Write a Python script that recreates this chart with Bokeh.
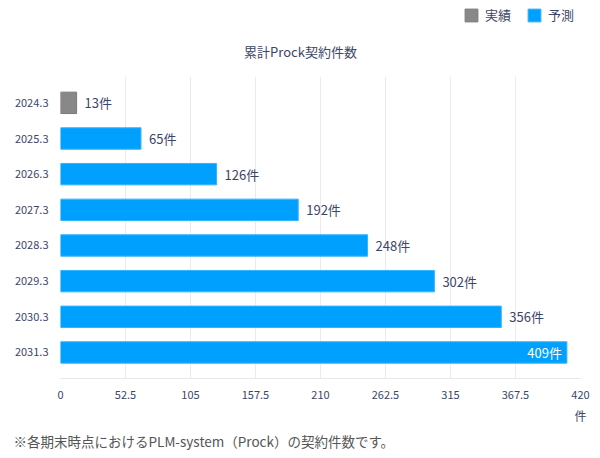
from bokeh.plotting import figure
from bokeh.models import (ColumnDataSource, Range1d, FixedTicker, Title, Label,
                          Legend, LegendItem, BoxAnnotation)
from bokeh.core.properties import value
from bokeh.embed import file_html
from bokeh.resources import INLINE

# ---- data ----
periods = ["2024.3", "2025.3", "2026.3", "2027.3", "2028.3", "2029.3", "2030.3", "2031.3"]
counts = [13, 65, 126, 192, 248, 302, 356, 409]
kinds = ["実績", "予測", "予測", "予測", "予測", "予測", "予測", "予測"]
x_ticks = [0, 52.5, 105, 157.5, 210, 262.5, 315, 367.5, 420]
title_text = "累計Prock契約件数"
unit_text = "件"
note_text = "※各期末時点におけるPLM-system（Prock）の契約件数です。"

FONT = "Noto Sans CJK JP"
TXT = "#3d4566"
BLUE = "#00a0ff"
GREY = "#888888"

n = len(periods)
pos = list(range(n))             # row index of each period (top to bottom)
PAD = 0.73                        # band padding around the outermost rows
HEADER = 2.14                     # extra room (in rows) for legend and title

p = figure(width=600, height=458, output_backend="svg", toolbar_location=None,
           x_range=Range1d(0, 420),
           y_range=Range1d(start=n - 1 + PAD, end=-PAD - HEADER),
           min_border_left=60, min_border_right=20, min_border_top=0, min_border_bottom=80)
p.outline_line_color = None
p.background_fill_color = "white"
p.border_fill_color = "white"

act = [i for i, k in enumerate(kinds) if k == "実績"]
fc = [i for i, k in enumerate(kinds) if k == "予測"]
src_act = ColumnDataSource(dict(y=[pos[i] for i in act], x=[counts[i] for i in act]))
src_fc = ColumnDataSource(dict(y=[pos[i] for i in fc], x=[counts[i] for i in fc]))

r_act = p.hbar(y="y", right="x", left=0, height=0.6, source=src_act,
               fill_color=GREY, line_color="#7a7a7a", line_width=1)
r_fc = p.hbar(y="y", right="x", left=0, height=0.6, source=src_fc,
              fill_color=BLUE, line_color="#33b3ff", line_width=1)

# value labels
vmax = max(counts)
lab = [f"{c}{unit_text}" for c in counts]
out_src = ColumnDataSource(dict(y=[pos[i] for i in range(n) if counts[i] != vmax],
                                x=[counts[i] for i in range(n) if counts[i] != vmax],
                                t=[lab[i] for i in range(n) if counts[i] != vmax]))
in_src = ColumnDataSource(dict(y=[pos[i] for i in range(n) if counts[i] == vmax],
                               x=[counts[i] for i in range(n) if counts[i] == vmax],
                               t=[lab[i] for i in range(n) if counts[i] == vmax]))
p.text(x="x", y="y", text="t", source=out_src, x_offset=8, text_align="left",
       text_baseline="middle", text_font=value(FONT), text_font_size="13px", text_color=TXT)
p.text(x="x", y="y", text="t", source=in_src, x_offset=-5, text_align="right",
       text_baseline="middle", text_font=value(FONT), text_font_size="13px", text_color="white")

# axes
p.xaxis.ticker = FixedTicker(ticks=x_ticks)
p.xaxis.major_label_overrides = {t: f"{t:g}" for t in x_ticks}
p.xaxis.axis_line_color = "#e6e6e6"
p.xaxis.major_tick_line_color = None
p.xaxis.minor_tick_line_color = None
p.xaxis.major_tick_out = 0
p.xaxis.major_label_standoff = 12
p.xaxis.major_label_text_font = FONT
p.xaxis.major_label_text_font_size = "11px"
p.xaxis.major_label_text_color = TXT

p.yaxis.ticker = FixedTicker(ticks=pos)
p.yaxis.major_label_overrides = {i: periods[i] for i in pos}
p.yaxis.axis_line_color = None
p.yaxis.major_tick_line_color = None
p.yaxis.minor_tick_line_color = None
p.yaxis.major_tick_out = 0
p.yaxis.major_label_standoff = 12
p.yaxis.major_label_text_font = FONT
p.yaxis.major_label_text_font_size = "11px"
p.yaxis.major_label_text_color = TXT

p.xgrid.grid_line_color = "#ebebeb"
p.ygrid.grid_line_color = None

# keep grid lines out of the header area
p.add_layout(BoxAnnotation(top=-PAD - HEADER, bottom=-PAD, fill_color="white", fill_alpha=1,
                           line_color=None))

# legend (top right) and title, inside the header area
legend = Legend(items=[LegendItem(label="実績", renderers=[r_act]),
                       LegendItem(label="予測", renderers=[r_fc])],
                orientation="horizontal", location=(403, 354),
                padding=0, margin=0, spacing=15, label_standoff=6,
                glyph_width=16, glyph_height=16, label_height=16,
                border_line_color=None, background_fill_alpha=0,
                label_text_font=FONT, label_text_font_size="13px", label_text_color=TXT)
p.add_layout(legend, "center")

p.add_layout(Label(x=240, y=327, x_units="screen", y_units="screen", text=title_text,
                   text_align="center", text_baseline="middle", text_font=FONT,
                   text_font_size="13px", text_color=TXT))

# unit and note below the axis
p.add_layout(Title(text=unit_text, align="right", offset=-6, standoff=6,
                   text_font=FONT, text_font_size="12px", text_font_style="normal",
                   text_color=TXT), "below")
p.add_layout(Title(text=note_text, align="left", offset=-47, standoff=4,
                   text_font=FONT, text_font_size="13.5px", text_font_style="normal",
                   text_color="#555555"), "below")

open("out.html", "w").write(file_html(p, INLINE))
